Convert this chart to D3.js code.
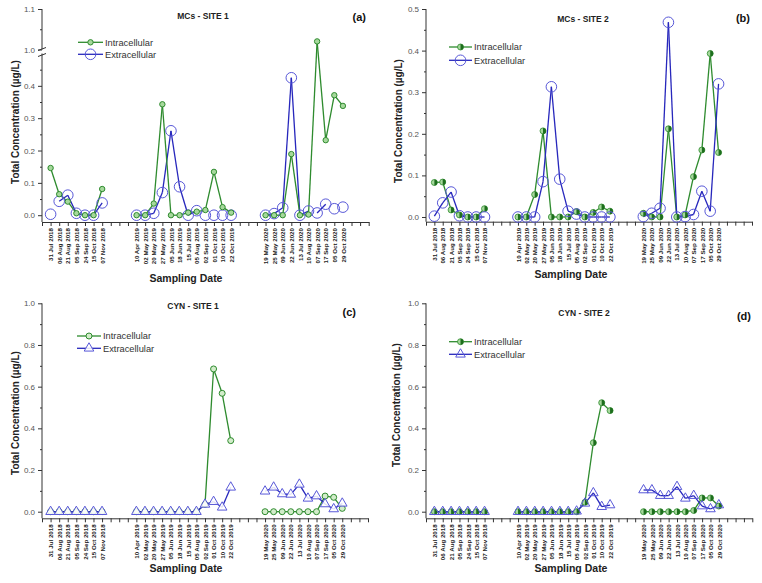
<!DOCTYPE html>
<html>
<head>
<meta charset="utf-8">
<script src="https://cdn.jsdelivr.net/npm/d3@7"></script>
<style>
  body { margin: 0; background: #fff; }
  svg { display: block; font-family: "Liberation Sans", Arial, sans-serif; }
</style>
</head>
<body>
<svg id="chart" width="762" height="583"></svg>
<script>
// sampling dates, one list per campaign
var dates2018 = ["31 Jul 2018", "06 Aug 2018", "21 Aug 2018", "05 Sep 2018", "24 Sep 2018", "15 Oct 2018", "07 Nov 2018"];
var dates2019 = ["10 Apr 2019", "02 May 2019", "20 May 2019", "27 May 2019", "05 Jun 2019", "18 Jun 2019",
  "15 Jul 2019", "05 Aug 2019", "02 Sep 2019", "01 Oct 2019", "10 Oct 2019", "22 Oct 2019"];
var dates2020 = ["19 May 2020", "25 May 2020", "09 Jun 2020", "22 Jun 2020", "13 Jul 2020",
  "10 Aug 2020", "07 Sep 2020", "17 Sep 2020", "05 Oct 2020", "29 Oct 2020"];
var dates = dates2018.concat(dates2019, dates2020);

// values in ug/L, same order as dates
var mcs1Intra = [0.146, 0.065, 0.042, 0.006, 0, 0, 0.081,
  0, 0, 0.036, 0.343, 0, 0, 0.008, 0.011, 0.016, 0.134, 0.025, 0.008,
  0, 0, 0, 0.189, 0, 0.002, 1.02, 0.232, 0.371, 0.338];
var mcs1Extra = [0.003, 0.043, 0.062, 0.006, 0, 0, 0.038,
  0, 0, 0.006, 0.07, 0.261, 0.088, 0, 0.014, 0, 0, 0, 0,
  0, 0.005, 0.023, 0.425, 0, 0.013, 0.007, 0.034, 0.02, 0.025];
var mcs2Intra = [0.083, 0.084, 0.017, 0.005, 0, 0, 0.02,
  0, 0, 0.054, 0.207, 0, 0, 0, 0.013, 0, 0.011, 0.024, 0.014,
  0.009, 0, 0, 0.212, 0, 0.005, 0.097, 0.161, 0.393, 0.155];
var mcs2Extra = [0.002, 0.034, 0.06, 0.003, 0, 0, 0,
  0, 0, 0, 0.085, 0.313, 0.091, 0.014, 0.007, 0, 0, 0, 0,
  0.001, 0.009, 0.021, 0.468, 0, 0.001, 0.006, 0.062, 0.014, 0.32];
var cyn1Intra = [0, 0, 0, 0, 0, 0, 0,
  0, 0, 0, 0, 0, 0, 0, 0, 0.035, 0.685, 0.568, 0.341,
  0, 0, 0, 0, 0, 0, 0, 0.075, 0.069, 0.016];
var cyn1Extra = [0, 0, 0, 0, 0, 0, 0,
  0, 0, 0, 0, 0, 0, 0, 0, 0.035, 0.048, 0.021, 0.117,
  0.098, 0.117, 0.085, 0.083, 0.131, 0.064, 0.075, 0.037, 0.013, 0.04];
var cyn2Intra = [0, 0, 0, 0, 0, 0, 0,
  0, 0, 0, 0, 0, 0, 0, 0, 0.045, 0.331, 0.523, 0.485,
  0, 0, 0, 0, 0, 0, 0.006, 0.066, 0.066, 0.027];
var cyn2Extra = [0, 0, 0, 0, 0, 0, 0,
  0, 0, 0, 0, 0, 0, 0, 0.002, 0.04, 0.09, 0.024, 0.032,
  0.104, 0.104, 0.077, 0.077, 0.12, 0.064, 0.077, 0.027, 0.013, 0.032];
// segments (starting at these dates) that are not joined in the original
var mcs1ExtraGaps = ["31 Jul 2018", "05 Aug 2019", "02 Sep 2019", "01 Oct 2019", "10 Oct 2019",
  "10 Aug 2020", "17 Sep 2020", "05 Oct 2020"];

// x slot of each date: campaigns start at slots 1, 11 and 26
var groupStart = [1, 11, 26];
var slotOf = {};
[dates2018, dates2019, dates2020].forEach(function (g, gi) {
  g.forEach(function (d, i) { slotOf[d] = { slot: groupStart[gi] + i, group: gi }; });
});

var green = "#2e8b2e", greenLight = "#a6d89c", greenDark = "#1d6e1d";
var blue = "#2727bc", blueMark = "#5858d8";

var panels = [
  { title: "MCs - SITE 1", tag: "(a)", intra: mcs1Intra, extra: mcs1Extra, extraGaps: mcs1ExtraGaps,
    x0: 42, x1: 368.7, nSlots: 38, axisY: 222,
    yDomain: [-0.021, 0.5, 1.0, 1.1], yRange: [222, 53.5, 49.5, 9],
    yMajor: [0, 0.1, 0.2, 0.3, 0.4, 1.0, 1.1], yMinor: [0.05, 0.15, 0.25, 0.35, 0.45, 1.05],
    axisParts: [[-0.021, 0.5], [1.0, 1.1]],
    intraMark: "dot", extraMark: "circle", order: ["extra", "intra"],
    leg: [78, 103, 42.3, 54.3], titleX: 203, titleY: 19, tagX: 366, tagY: 21,
    ylabX: 15, ylabY: 122, xlabX: 186, xlabY: 282 },
  { title: "MCs - SITE 2", tag: "(b)", intra: mcs2Intra, extra: mcs2Extra, extraGaps: [],
    x0: 426, x1: 752, nSlots: 39, axisY: 221.7,
    yDomain: [-0.0113, 0.5], yRange: [221.7, 9],
    yMajor: [0, 0.1, 0.2, 0.3, 0.4, 0.5], yMinor: [0.05, 0.15, 0.25, 0.35, 0.45],
    axisParts: [[-0.0113, 0.5]],
    intraMark: "half", extraMark: "circle", order: ["intra", "extra"],
    leg: [449, 472, 47, 60.3], titleX: 583, titleY: 22, tagX: 750, tagY: 22,
    ylabX: 398, ylabY: 121, xlabX: 571, xlabY: 278 },
  { title: "CYN - SITE 1", tag: "(c)", intra: cyn1Intra, extra: cyn1Extra, extraGaps: [],
    x0: 42, x1: 368, nSlots: 38, axisY: 518.3,
    yDomain: [-0.0317, 1.0], yRange: [518.3, 303.3],
    yMajor: [0, 0.2, 0.4, 0.6, 0.8, 1.0], yMinor: [0.1, 0.3, 0.5, 0.7, 0.9],
    axisParts: [[-0.0317, 1.0]],
    intraMark: "ring", extraMark: "triangle", order: ["intra", "extra"],
    leg: [77, 101, 336, 348.3], titleX: 193, titleY: 309, tagX: 356, tagY: 316,
    ylabX: 15, ylabY: 413, xlabX: 186, xlabY: 572 },
  { title: "CYN - SITE 2", tag: "(d)", intra: cyn2Intra, extra: cyn2Extra, extraGaps: [],
    x0: 426, x1: 752.3, nSlots: 39, axisY: 518.3,
    yDomain: [-0.0317, 1.0], yRange: [518.3, 303.3],
    yMajor: [0, 0.2, 0.4, 0.6, 0.8, 1.0], yMinor: [0.1, 0.3, 0.5, 0.7, 0.9],
    axisParts: [[-0.0317, 1.0]],
    intraMark: "half", extraMark: "triangleOpen", order: ["intra", "extra"],
    leg: [449, 472, 341.7, 354.3], titleX: 584, titleY: 316, tagX: 751, tagY: 320,
    ylabX: 396, ylabY: 405, xlabX: 571, xlabY: 572 }
];

var svg = d3.select("#chart");

// marker drawing helper
function drawMarker(g, kind, x, y) {
  var m = g.append("g").attr("transform", "translate(" + x + "," + y + ")");
  if (kind === "dot") {
    m.append("circle").attr("r", 2.7).attr("fill", greenLight).attr("stroke", green).attr("stroke-width", 1);
  } else if (kind === "ring") {
    m.append("circle").attr("r", 3).attr("fill", "#d2ecca").attr("stroke", green).attr("stroke-width", 1);
  } else if (kind === "half") {
    m.append("circle").attr("r", 3).attr("fill", greenLight).attr("stroke", green).attr("stroke-width", 0.8);
    m.append("path").attr("d", "M0,-3A3,3 0 0 1 0,3Z").attr("fill", greenDark);
  } else if (kind === "circle") {
    m.append("circle").attr("r", 5.3).attr("fill", "none").attr("stroke", blueMark).attr("stroke-width", 1);
  } else {
    m.append("path").attr("d", d3.symbol(d3.symbolTriangle, 40)())
      .attr("fill", kind === "triangle" ? "#fff" : "none").attr("fill-opacity", 0.85)
      .attr("stroke", blueMark).attr("stroke-width", 1);
  }
}

panels.forEach(function (p) {
  var g = svg.append("g");
  var x = d3.scaleLinear().domain([0, p.nSlots]).range([p.x0, p.x1]);
  var y = d3.scaleLinear().domain(p.yDomain).range(p.yRange);

  // x axis
  var slotLabels = {};
  dates.forEach(function (d) { slotLabels[slotOf[d].slot] = d; });
  var xAxis = g.append("g").attr("transform", "translate(0," + p.axisY + ")")
    .call(d3.axisBottom(x).tickValues(d3.range(0, p.nSlots + 1))
      .tickFormat(function (s) { return slotLabels[s] || ""; })
      .tickSize(4).tickSizeOuter(0));
  xAxis.select(".domain").attr("stroke", "#333");
  xAxis.selectAll(".tick line").attr("stroke", "#333");
  xAxis.selectAll("text")
    .attr("transform", "rotate(-90)")
    .attr("x", -6).attr("y", 0).attr("dy", "0.35em")
    .attr("text-anchor", "end")
    .attr("font-size", "6.2px").attr("font-weight", "bold")
    .attr("font-family", "'Liberation Sans', Arial, sans-serif")
    .attr("fill", "#1a1a1a");

  // y axis (majors with labels, minors without)
  var yAxis = g.append("g").attr("transform", "translate(" + p.x0 + ",0)")
    .call(d3.axisLeft(y).tickValues(p.yMajor).tickFormat(d3.format(".1f")).tickSize(4).tickSizeOuter(0));
  yAxis.select(".domain").remove();
  yAxis.selectAll(".tick line").attr("stroke", "#333");
  yAxis.selectAll("text").attr("font-size", "8px").attr("fill", "#555")
    .attr("font-family", "'Liberation Sans', Arial, sans-serif");
  var yMinor = g.append("g").attr("transform", "translate(" + p.x0 + ",0)")
    .call(d3.axisLeft(y).tickValues(p.yMinor).tickFormat("").tickSize(2).tickSizeOuter(0));
  yMinor.select(".domain").remove();
  yMinor.selectAll(".tick line").attr("stroke", "#333");

  p.axisParts.forEach(function (part) {
    g.append("line").attr("x1", p.x0).attr("x2", p.x0)
      .attr("y1", y(part[0])).attr("y2", y(part[1]))
      .attr("stroke", "#333").attr("stroke-width", 1);
  });
  if (p.axisParts.length > 1) {
    // break marks on the y axis
    [y(0.5) + 1.5, y(1.0) - 0.5].forEach(function (yy) {
      g.append("line").attr("x1", p.x0 - 4).attr("x2", p.x0 + 4)
        .attr("y1", yy + 1.5).attr("y2", yy - 1.5)
        .attr("stroke", "#333").attr("stroke-width", 1);
    });
  }

  // series lines, joined only inside each campaign
  var line = d3.line().x(function (d) { return x(d.slot); }).y(function (d) { return y(d.v); });
  var series = {
    intra: { vals: p.intra, gaps: [], color: green, mark: p.intraMark },
    extra: { vals: p.extra, gaps: p.extraGaps, color: blue, mark: p.extraMark }
  };
  p.order.forEach(function (key) {
    var s = series[key];
    dates.forEach(function (d, i) {
      var n = dates[i + 1];
      if (!n || slotOf[n].group !== slotOf[d].group || s.gaps.indexOf(d) >= 0) return;
      g.append("path")
        .attr("d", line([{ slot: slotOf[d].slot, v: s.vals[i] }, { slot: slotOf[n].slot, v: s.vals[i + 1] }]))
        .attr("fill", "none").attr("stroke", s.color).attr("stroke-width", 1.3);
    });
  });
  p.order.forEach(function (key) {
    var s = series[key];
    dates.forEach(function (d, i) {
      drawMarker(g, s.mark, x(slotOf[d].slot), y(s.vals[i]));
    });
  });

  // legend
  var L = p.leg;
  [["intra", "Intracellular", L[2]], ["extra", "Extracellular", L[3]]].forEach(function (e) {
    var s = series[e[0]];
    g.append("line").attr("x1", L[0]).attr("x2", L[1]).attr("y1", e[2]).attr("y2", e[2])
      .attr("stroke", s.color).attr("stroke-width", 1.3);
    drawMarker(g, s.mark, (L[0] + L[1]) / 2, e[2]);
    g.append("text").attr("x", L[1] + 2).attr("y", e[2]).attr("dy", "0.35em")
      .attr("font-size", "9.3px").attr("fill", "#333").text(e[1]);
  });

  // titles and axis labels
  g.append("text").attr("x", p.titleX).attr("y", p.titleY).attr("text-anchor", "middle")
    .attr("font-size", "8.5px").attr("font-weight", "bold").attr("fill", "#222").text(p.title);
  g.append("text").attr("x", p.tagX).attr("y", p.tagY).attr("text-anchor", "end")
    .attr("font-size", "11px").attr("font-weight", "bold").attr("fill", "#111").text(p.tag);
  g.append("text").attr("transform", "translate(" + p.ylabX + "," + p.ylabY + ") rotate(-90)")
    .attr("text-anchor", "middle").attr("dy", "0.35em")
    .attr("font-size", "10px").attr("font-weight", "bold").attr("fill", "#222")
    .text("Total Concentration (µg/L)");
  g.append("text").attr("x", p.xlabX).attr("y", p.xlabY).attr("text-anchor", "middle")
    .attr("font-size", "10.5px").attr("font-weight", "bold").attr("fill", "#222")
    .text("Sampling Date");
});
</script>
</body>
</html>
